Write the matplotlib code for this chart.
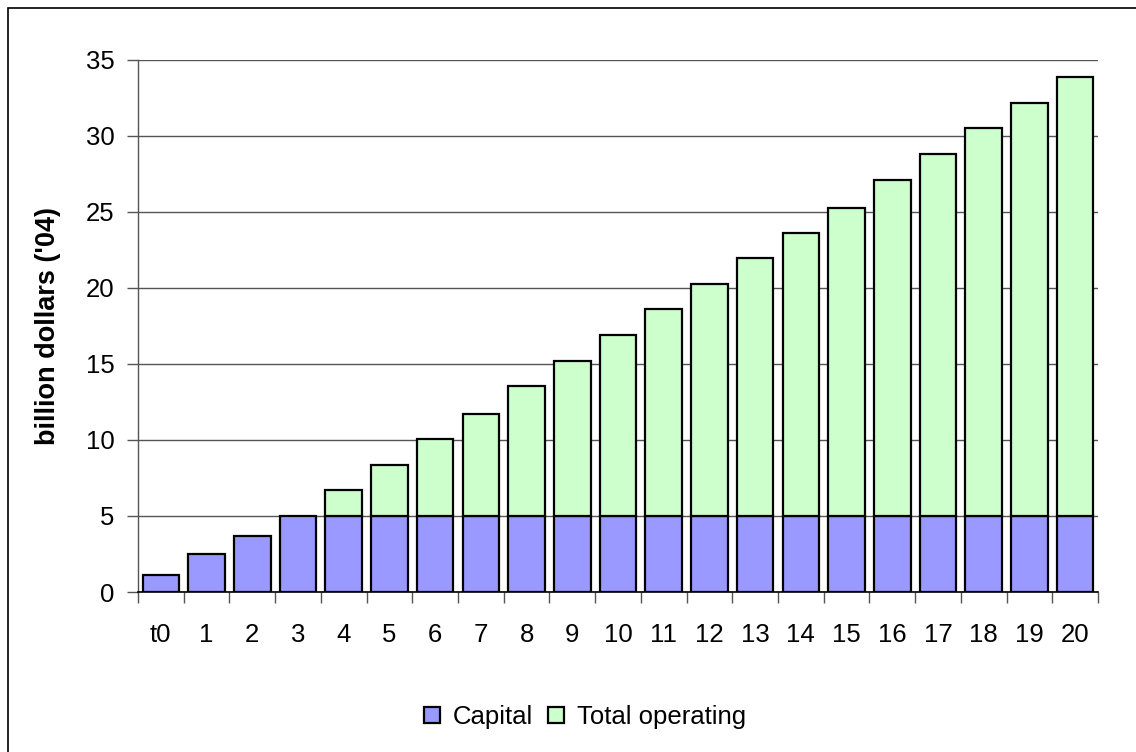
import matplotlib
matplotlib.use("Agg")
import matplotlib.pyplot as plt
from matplotlib.patches import Rectangle
import numpy as np

plt.rcParams['font.family'] = ['Liberation Sans', 'DejaVu Sans']

categories = ['t0', '1', '2', '3', '4', '5', '6', '7', '8', '9', '10',
              '11', '12', '13', '14', '15', '16', '17', '18', '19', '20']
capital = [1.14, 2.50, 3.68, 5.0, 5.0, 5.0, 5.0, 5.0, 5.0, 5.0, 5.0,
           5.0, 5.0, 5.0, 5.0, 5.0, 5.0, 5.0, 5.0, 5.0, 5.0]
operating = [0.0, 0.0, 0.0, 0.0, 1.69, 3.35, 5.06, 6.70, 8.54, 10.21, 11.90,
             13.58, 15.25, 16.93, 18.60, 20.27, 22.11, 23.82, 25.49, 27.17, 28.84]
yticks = [0, 5, 10, 15, 20, 25, 30, 35]

W, H = 1136, 752
fig = plt.figure(figsize=(W / 100, H / 100), dpi=100)
ax = fig.add_axes([138 / W, 1 - 592 / H, (1098 - 138) / W, (592 - 59.5) / H])

x = np.arange(len(categories))
fs = 18.5
ax.bar(x, capital, width=0.8, color='#9999FF', edgecolor='black', linewidth=1.6,
       label='Capital', zorder=3)
op_mask = [v > 0 for v in operating]
ax.bar(x[op_mask], np.array(operating)[op_mask], width=0.8,
       bottom=np.array(capital)[op_mask], color='#CCFFCC', edgecolor='black',
       linewidth=1.6, label='Total operating', zorder=3)

ax.set_xlim(-0.5, len(categories) - 0.5)
ax.set_ylim(0, 35)
ax.set_yticks(yticks)
ax.set_yticklabels([str(v) for v in yticks], fontsize=fs)
ax.yaxis.grid(True, color='#555555', linewidth=1.0, zorder=0)
ax.set_axisbelow(True)

ax.set_xticks(x)
ax.set_xticklabels(categories, fontsize=fs)
ax.set_xticks(np.arange(len(categories) + 1) - 0.5, minor=True)
ax.tick_params(axis='x', which='major', length=0, pad=22)
ax.tick_params(axis='x', which='minor', length=8, width=1.0, color='#555555', direction='out')
ax.tick_params(axis='y', which='major', length=8, width=1.0, color='#555555', direction='out', pad=9)

for s in ['top', 'right']:
    ax.spines[s].set_visible(False)
ax.spines['left'].set_color('#555555')
ax.spines['bottom'].set_color('black')
ax.spines['left'].set_linewidth(1.0)
ax.spines['bottom'].set_linewidth(1.2)

fig.text(48 / W, 1 - 326 / H, "billion dollars ('04)", rotation=90, ha='center',
         va='center', fontsize=19.5, fontweight='bold')

leg = fig.legend(loc='center', bbox_to_anchor=(585 / W, 1 - 717 / H), ncol=2,
                 frameon=False, fontsize=fs, handlelength=0.6, handleheight=0.6,
                 handletextpad=0.5, columnspacing=0.6, borderpad=0)
for h in leg.legend_handles:
    h.set_linewidth(1.6)

fig.patches.append(Rectangle((8 / W, -0.05), 1.1, 1.05 - 8 / H, transform=fig.transFigure,
                             fill=False, edgecolor='black', linewidth=1.2, zorder=10))

fig.savefig('out.png', dpi=100)
